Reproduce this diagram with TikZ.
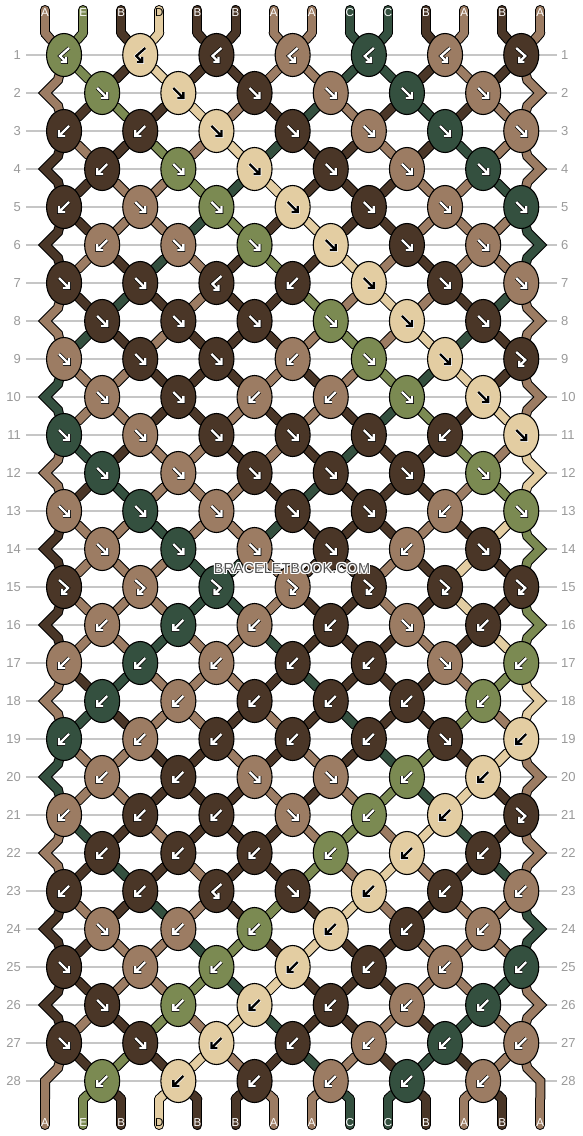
\documentclass[tikz,border=0pt]{standalone}
\usepackage{fontspec}
\setmainfont{Liberation Sans}
\usetikzlibrary{shapes.geometric}
\definecolor{thrA}{HTML}{9C7C63}
\definecolor{thrB}{HTML}{4A3627}
\definecolor{thrC}{HTML}{34503F}
\definecolor{thrD}{HTML}{E3CDA2}
\definecolor{thrE}{HTML}{7B8A52}
\definecolor{rulegray}{HTML}{C6C6C6}
\definecolor{numgray}{HTML}{9A9A9A}
\def\inkA{white}\def\inkB{white}\def\inkC{white}\def\inkD{black}\def\inkE{white}
\def\rimA{black}\def\rimB{black}\def\rimC{black}\def\rimD{white}\def\rimE{black}
\def\kindf{f}\def\kindb{b}\def\kindfb{fb}
%% arrow glyphs
\def\glyphf{(-5,-5) -- (4.5,4.5) (5,-1) -- (5,5) -- (-1,5)}
\def\glyphb{(5,-5) -- (-4.5,4.5) (-5,-1) -- (-5,5) -- (1,5)}
\def\glyphbf{(5,-7) -- (-4,1) -- (1.5,6.5) (2,1.8) -- (2,7) -- (-3.2,7)}
\def\glyphfb{(-5,-7) -- (4,1) -- (-1.5,6.5) (-2,1.8) -- (-2,7) -- (3.2,7)}
\pgfdeclarelayer{grid}
\pgfdeclarelayer{strout}
\pgfdeclarelayer{strin}
\pgfsetlayers{grid,strout,strin,main}
%% one piece of thread, drawn with the style of the current pass
\newcommand\strand[2]{\draw[strandpass=#1] #2;}
\newcommand\swapthreads{%
  \expandafter\xdef\csname s\posL\endcsname{\rthr}%
  \expandafter\xdef\csname s\posR\endcsname{\lthr}}
%% name of the knot (or edge point) that holds position #2 in row #1
\newcommand\hname[2]{%
  \ifnum#1=0 \edef\hres{tt-#2}%
  \else\ifnum#1=29 \edef\hres{bb-#2}%
  \else\ifodd#1 \pgfmathtruncatemacro\hh{(#2+1)/2}\edef\hres{k-#1-\hh}%
  \else\ifnum#2=1 \edef\hres{eL-#1}%
  \else\ifnum#2=14 \edef\hres{eR-#1}%
  \else\pgfmathtruncatemacro\hh{#2/2}\edef\hres{k-#1-\hh}%
  \fi\fi\fi\fi\fi}
%% all thread pieces, knot to knot, and the loose ends
\newcommand\threads{%
  \foreach \r in {0,...,28} {
    \pgfmathtruncatemacro\rn{\r+1}
    \pgfmathtruncatemacro\rnn{\r+2}
    \foreach \j in {1,...,14} {
      \edef\col{\csname c-\r-\j\endcsname}
      \hname{\r}{\j}\let\src\hres
      \hname{\rn}{\j}\let\tgt\hres
      \def\side{}
      \ifnum\j=1 \def\side{L}\def\kidx{1}\fi
      \ifnum\j=14 \def\side{R}\def\kidx{7}\fi
      \ifx\side\empty
        \strand{\col}{(\src) -- (\tgt)}
      \else
        \ifodd\r
          \ifnum\rn<28
            \strand{\col}{(\src) -- (a\side-\rn) -- (\tgt) -- (b\side-\rn) -- (k-\rnn-\kidx)}
          \else
            \strand{\col}{(\src) -- (a\side-\rn) -- (\tgt) -- (bb-\j)}
          \fi
        \else
          \ifnum\r=0 \strand{\col}{(\src) -- (\tgt)}\fi
        \fi
      \fi
    }
  }
  \foreach \j in {1,...,14} {
    \edef\ct{\csname c-0-\j\endcsname}
    \edef\cb{\csname c-28-\j\endcsname}
    \strand{\ct}{(t-\j) -- (tt-\j)}
    \strand{\cb}{(bb-\j) -- (b-\j)}
  }}
\begin{document}
\begin{tikzpicture}
[x=1pt,y=-1pt,
  knotdecorate/.style={shape=ellipse,draw=black,line width=1.1,fill=thr#1,
    minimum width=35,minimum height=43,inner sep=0},
  strandout/.style={draw=black,line width=10,line cap=round,line join=miter},
  strandin/.style={line width=8,line cap=round,line join=miter},
  glyphrim/.style={draw=\csname rim#1\endcsname,line width=3.7,line cap=butt,line join=miter},
  glyphink/.style={draw=\csname ink#1\endcsname,line width=2.3,line cap=butt,line join=miter},
  rowlabel/.style={text=numgray,font=\fontsize{13}{13}\selectfont,inner sep=0},
  gridline/.style={draw=rulegray,line width=1.3},
  endlabel/.style={font=\fontsize{11.5}{11.5}\selectfont,inner sep=0},
  wmark/.style={font=\fontsize{14.5}{14.5}\selectfont,inner sep=0},
  arrf/.pic={\path[glyphrim=#1] \glyphf; \path[glyphink=#1] \glyphf;},
  arrb/.pic={\path[glyphrim=#1] \glyphb; \path[glyphink=#1] \glyphb;},
  arrbf/.pic={\path[glyphrim=#1] \glyphbf; \path[glyphink=#1] \glyphbf;},
  arrfb/.pic={\path[glyphrim=#1] \glyphfb; \path[glyphink=#1] \glyphfb;}]
\useasboundingbox (0,0) rectangle (582,1136);
%% row numbers and rules
\begin{pgfonlayer}{grid}
\fill[white] (0,0) rectangle (582,1136);
\foreach \r in {1,...,28} {
  \pgfmathsetmacro\ky{55+38*(\r-1)}
  \node[rowlabel,anchor=east] (ll-\r) at (21,\ky) {\r};
  \node[rowlabel,anchor=west] (lr-\r) at (561,\ky) {\r};
  \draw[gridline] ([xshift=5]ll-\r.east) -- ([xshift=-4]lr-\r.west);
}
\end{pgfonlayer}
%% thread ends and edge turning points
\foreach \j in {1,...,14} {
  \pgfmathsetmacro\kx{45+38.1*(\j-1)}
  \coordinate (t-\j) at (\kx,10);
  \coordinate (tt-\j) at (\kx,33);
  \coordinate (bb-\j) at (\kx,1099);
  \coordinate (b-\j) at (\kx,1125);
}
\foreach \r in {2,4,...,28} {
  \pgfmathsetmacro\ky{55+38*(\r-1)}
  \coordinate (eL-\r) at (45,\ky);
  \coordinate (aL-\r) at (58,\ky-13);
  \coordinate (bL-\r) at (58,\ky+13);
  \coordinate (eR-\r) at (540.3,\ky);
  \coordinate (aR-\r) at (527.3,\ky-13);
  \coordinate (bR-\r) at (527.3,\ky+13);
}
%% threads at the start
\foreach \j/\t in {1/A,2/E,3/B,4/D,5/B,6/B,7/A,8/A,9/C,10/C,11/B,12/A,13/B,14/A} {
  \expandafter\xdef\csname s\j\endcsname{\t}
  \expandafter\xdef\csname c-0-\j\endcsname{\t}
}
%% knots: f forward, b backward, fb forward-backward, bf backward-forward
\foreach \r/\kinds in {
  1/{bf,bf,bf,bf,bf,bf,fb}, 2/{f,f,f,f,f,f}, 3/{b,b,f,f,f,f,f}, 4/{b,f,f,f,f,f},
  5/{b,f,f,f,f,f,f}, 6/{b,f,f,f,f,f}, 7/{f,f,bf,b,f,f,f}, 8/{f,f,f,f,f,f},
  9/{f,f,f,b,f,f,fb}, 10/{f,f,b,b,f,f}, 11/{f,f,f,f,f,b,f}, 12/{f,f,f,f,f,f},
  13/{f,f,f,f,f,b,f}, 14/{f,f,f,f,b,f}, 15/{fb,fb,fb,fb,fb,fb,fb}, 16/{b,b,b,b,f,b},
  17/{b,b,b,b,b,f,b}, 18/{b,b,b,b,b,b}, 19/{b,b,b,b,b,f,b}, 20/{b,b,f,f,b,b},
  21/{b,b,b,f,b,b,fb}, 22/{b,b,b,b,b,b}, 23/{b,b,bf,f,b,b,b}, 24/{f,b,b,b,b,b},
  25/{f,b,b,b,b,b,b}, 26/{f,b,b,b,b,b}, 27/{f,f,b,b,b,b,b}, 28/{b,b,b,b,b,b}} {
  \pgfmathsetmacro\ky{55+38*(\r-1)}
  \pgfmathtruncatemacro\odd{mod(\r,2)}
  \foreach \kind [count=\i] in \kinds {
    \pgfmathtruncatemacro\posL{\odd==1 ? 2*\i-1 : 2*\i}
    \pgfmathtruncatemacro\posR{\posL+1}
    \pgfmathsetmacro\kx{45+38.1*(\posL-0.5)}
    \edef\lthr{\csname s\posL\endcsname}
    \edef\rthr{\csname s\posR\endcsname}
    \edef\kk{\kind}
    \ifx\kk\kindf \let\kc\lthr \else\ifx\kk\kindfb \let\kc\lthr \else \let\kc\rthr \fi\fi
    \ifx\kk\kindf \swapthreads \fi
    \ifx\kk\kindb \swapthreads \fi
    \node[knotdecorate=\kc] (k-\r-\i) at (\kx,\ky) {};
    \edef\tmp{\noexpand\pic at (k-\r-\i) {arr\kk=\kc};}\tmp
  }
  \foreach \j in {1,...,14} {
    \expandafter\xdef\csname c-\r-\j\endcsname{\csname s\j\endcsname}
  }
}
%% threads: black rims first, colours over them
\begin{pgfonlayer}{strout}
  \tikzset{strandpass/.style={strandout}}
  \threads
\end{pgfonlayer}
\begin{pgfonlayer}{strin}
  \tikzset{strandpass/.style={strandin,draw=thr#1}}
  \threads
\end{pgfonlayer}
%% letters on the loose ends
\foreach \j in {1,...,14} {
  \edef\ct{\csname c-0-\j\endcsname}
  \edef\cb{\csname c-28-\j\endcsname}
  \node[endlabel,text=\csname ink\ct\endcsname] (lt-\j) at ([yshift=-3]t-\j) {\ct};
  \node[endlabel,text=\csname ink\cb\endcsname] (lb-\j) at ([yshift=2]b-\j) {\cb};
}
%% watermark
\foreach \dx/\dy [count=\n] in {1/0,-1/0,0/1,0/-1,1/1,-1/-1,1/-1,-1/1} {
  \node[wmark,text=white] (wmh-\n) at (292+\dx,568+\dy) {BRACELETBOOK.COM};
}
\node[wmark,text=black!68] (wm) at (292,568) {BRACELETBOOK.COM};
\end{tikzpicture}
\end{document}
